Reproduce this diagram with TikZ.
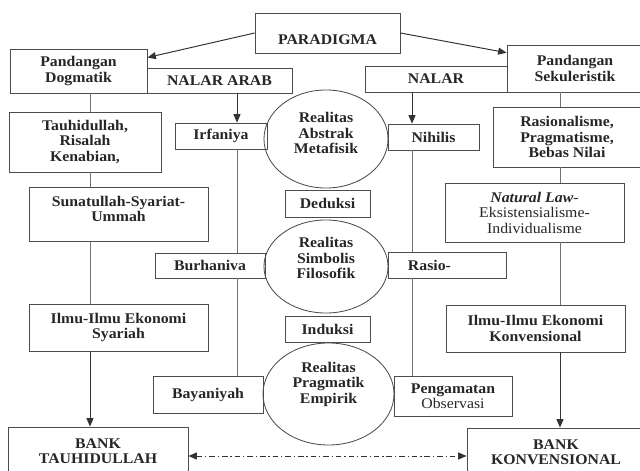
\documentclass[tikz,border=0pt]{standalone}
\usepackage{fontspec}
\setmainfont{Liberation Serif}[FakeStretch=1.07]
\usetikzlibrary{shapes.geometric,arrows.meta,calc}

\begin{document}
\begin{tikzpicture}[x=0.025cm, y=-0.025cm,
    kotak/.style={draw=black!70, line width=0.6pt, fill=white, inner sep=2pt, align=center, text=black!85, font=\bfseries\fontsize{10.5}{11}\selectfont},
    realitas/.style={draw=black!70, line width=0.6pt, ellipse, inner sep=0pt},
    isi/.style={align=center, text=black!85, font=\bfseries\fontsize{10.5}{11}\selectfont},
    garis/.style={draw=black!55, line width=0.7pt},
    panah/.style={draw=black!80, line width=0.7pt, -{Triangle[length=6pt,width=5pt]}}]
        \useasboundingbox (0,0) rectangle (640,471);

        % Top box
        \node[kotak, minimum width=3.625cm, minimum height=1cm] (paradigma) at (327.5,33) {};
        \node[isi] (paradigmatext) at (327.5,40) {PARADIGMA};

        % Left column
        \node[kotak, minimum width=3.425cm, minimum height=1.1cm] (dogmatik) at (78.5,71) {Pandangan\\Dogmatik};
        \node[kotak, minimum width=3.8cm, minimum height=1.5cm] (tauhid) at (85,142) {Tauhidullah,\\Risalah\\Kenabian,};
        \node[kotak, minimum width=4.475cm, minimum height=1.35cm] (sunat) at (118.5,214) {};
        \node[isi] (sunattext) at (118.5,209) {Sunatullah-Syariat-\\Ummah};
        \node[kotak, minimum width=4.475cm, minimum height=1.175cm] (syariah) at (118.5,327.5) {Ilmu-Ilmu Ekonomi\\Syariah};
        \node[kotak, minimum width=4.5cm, minimum height=1.2cm] (banktauhid) at (98,451) {BANK\\TAUHIDULLAH};

        % Middle left column
        \node[kotak, minimum width=3.625cm, minimum height=0.625cm] (nalararab) at (219.5,80.5) {NALAR ARAB};
        \node[kotak, minimum width=2.3cm, minimum height=0.65cm] (irfaniya) at (221,136) {Irfaniya};
        \node[kotak, minimum width=2.75cm, minimum height=0.625cm] (burhaniva) at (210,265.5) {Burhaniva};
        \node[kotak, minimum width=2.75cm, minimum height=0.925cm] (bayaniyah) at (208,394.5) {Bayaniyah};

        % Centre
        \node[realitas, minimum width=3.1cm, minimum height=2.45cm] (abstrak) at (326,139) {};
        \node[isi] (abstraktext) at (326,133) {Realitas\\Abstrak\\Metafisik};
        \node[kotak, minimum width=2.125cm, minimum height=0.675cm] (deduksi) at (327.5,203.5) {Deduksi};
        \node[realitas, minimum width=3.1cm, minimum height=2.325cm] (simbolis) at (326,266.5) {};
        \node[isi] (simbolistext) at (326,258) {Realitas\\Simbolis\\Filosofik};
        \node[kotak, minimum width=2.125cm, minimum height=0.65cm] (induksi) at (327.5,329) {Induksi};
        \node[realitas, minimum width=3.275cm, minimum height=2.55cm] (pragmatik) at (328.5,394) {};
        \node[isi] (pragmatiktext) at (328.5,384) {Realitas\\Pragmatik\\Empirik};

        % Middle right column
        \node[kotak, minimum width=3.55cm, minimum height=0.65cm] (nalar) at (436,79) {NALAR};
        \node[kotak, minimum width=2.275cm, minimum height=0.65cm] (nihilis) at (433.5,137) {Nihilis};
        \node[kotak, minimum width=2.95cm, minimum height=0.65cm] (rasio) at (447,265) {};
        \node[isi, anchor=west] (rasiotext) at (403,265) {Rasio-};
        \node[kotak, minimum width=2.95cm, minimum height=1cm] (pengamatan) at (453,396) {Pengamatan\\{\mdseries Observasi}};

        % Right column
        \node[kotak, minimum width=3.4cm, minimum height=1.175cm] (sekuler) at (575,68.5) {Pandangan\\Sekuleristik};
        \node[kotak, minimum width=3.7cm, minimum height=1.5cm] (rasional) at (567,137) {Rasionalisme,\\Pragmatisme,\\Bebas Nilai};
        \node[kotak, minimum width=4.475cm, minimum height=1.475cm] (natural) at (534.5,212.5) {\textit{Natural Law}{\mdseries -}\\{\mdseries Eksistensialisme-}\\{\mdseries Individualisme}};
        \node[kotak, minimum width=4.475cm, minimum height=1.175cm] (konven) at (535.5,328.5) {Ilmu-Ilmu Ekonomi\\Konvensional};
        \node[kotak, minimum width=4.45cm, minimum height=1.2cm] (bankkonven) at (556,452) {BANK\\KONVENSIONAL};

        % Axes of the vertical lines
        \coordinate (kiri) at (90,0);
        \coordinate (tengahkiri) at (237,0);
        \coordinate (tengahkanan) at (412,0);
        \coordinate (kanan) at (560,0);
        \coordinate (bawah) at (0,456);

        % Arrows from the top
        \draw[panah] (paradigma.west) -- ($(dogmatik.north east)!0.2!(dogmatik.south east)$);
        \draw[panah] (paradigma.east) -- ($(sekuler.north west)!0.17!(sekuler.south west)$);

        % Left column lines
        \draw[garis] (dogmatik.south -| kiri) -- (tauhid.north -| kiri);
        \draw[garis] (tauhid.south -| kiri) -- (sunat.north -| kiri);
        \draw[garis] (sunat.south -| kiri) -- (syariah.north -| kiri);
        \draw[panah] (syariah.south -| kiri) -- (banktauhid.north -| kiri);

        % Middle left lines
        \draw[panah] (nalararab.south -| tengahkiri) -- (irfaniya.north -| tengahkiri);
        \draw[garis] (irfaniya.south -| tengahkiri) -- (burhaniva.north -| tengahkiri);
        \draw[garis] (burhaniva.south -| tengahkiri) -- (bayaniyah.north -| tengahkiri);

        % Middle right lines
        \draw[panah] (nalar.south -| tengahkanan) -- (nihilis.north -| tengahkanan);
        \draw[garis] (nihilis.south -| tengahkanan) -- (rasio.north -| tengahkanan);
        \draw[garis] (rasio.south -| tengahkanan) -- (pengamatan.north -| tengahkanan);

        % Right column lines
        \draw[garis] (sekuler.south -| kanan) -- (rasional.north -| kanan);
        \draw[garis] (rasional.south -| kanan) -- (natural.north -| kanan);
        \draw[garis] (natural.south -| kanan) -- (konven.north -| kanan);
        \draw[panah] (konven.south -| kanan) -- (bankkonven.north -| kanan);

        % Between the banks
        \draw[panah, {Triangle[length=6pt,width=5pt]}-{Triangle[length=6pt,width=5pt]}, dash pattern=on 4pt off 2pt on 1pt off 2pt] (banktauhid.east |- bawah) -- (bankkonven.west |- bawah);

    \end{tikzpicture}
\end{document}
